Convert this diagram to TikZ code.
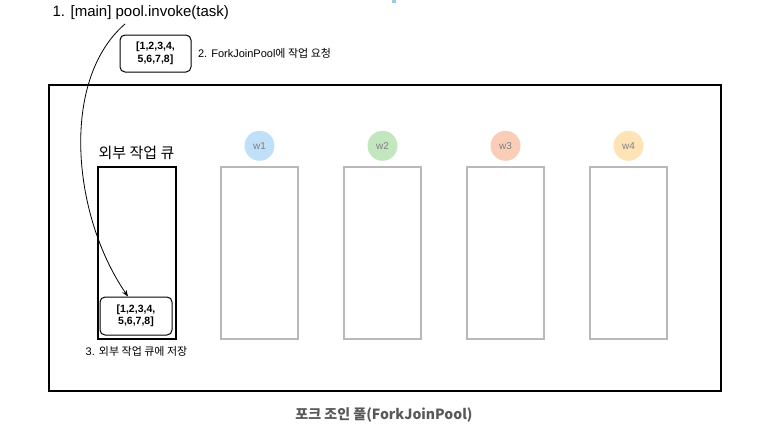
\documentclass[tikz,border=0pt]{standalone}
\usepackage{fontspec}
\setmainfont{Liberation Sans}
\newfontfamily\kr{Noto Sans CJK KR}
\usetikzlibrary{arrows.meta, positioning}

\definecolor{wblue}{HTML}{BFE0F8}
\definecolor{wgreen}{HTML}{C2E6BE}
\definecolor{wred}{HTML}{F9CDB8}
\definecolor{worange}{HTML}{FDE3B6}
\definecolor{tickblue}{HTML}{9EC8E4}

\begin{document}
\begin{tikzpicture}[x=1pt, y=-1pt, >=Stealth,
	task/.style={draw, rounded corners=5pt, line width=1pt, align=center,
		minimum width=71pt, minimum height=37pt,
		font=\bfseries\fontsize{10.5}{12.5}\selectfont},
	worker/.style={draw=gray!55, line width=2pt,
		minimum width=77pt, minimum height=172pt},
	wcircle/.style={circle, minimum size=30pt, inner sep=0pt,
		text=gray, font=\fontsize{10}{11}\selectfont}]
	\useasboundingbox (0,0) rectangle (773,434);
	\fill[tickblue] (392,0) rectangle (396,3);

	% pool and its queue
	\node[draw, line width=2pt, minimum width=672pt, minimum height=306pt,
		anchor=north west] (pool) at (48,84) {};
	\node[draw, line width=2pt, minimum width=78pt, minimum height=172pt]
		(queue) at (136.5,253) {};
	\node[above=3pt of queue, font=\kr\fontsize{15}{17}\selectfont] (qlabel)
		{외부 작업 큐};
	\node[task, minimum width=72pt, minimum height=38pt] (qtask) at (136,316)
		{[1,2,3,4,\\5,6,7,8]};
	\node[below=3pt of queue, font=\fontsize{11}{12}\selectfont] (store)
		{3. {\kr 외부 작업 큐에 저장}};

	\foreach \i/\c in {1/wblue, 2/wgreen, 3/wred, 4/worange} {
		\node[worker] (box\i) at ({259.5+123*(\i-1)},253) {};
		\node[wcircle, fill=\c, above=5pt of box\i] (w\i) {w\i};
	}

	% request from main
	\node[anchor=west, font=\fontsize{15}{17}\selectfont] (main) at (49,13)
		{1. [main] pool.invoke(task)};
	\node[task] (ptask) at (155.5,53.5) {[1,2,3,4,\\5,6,7,8]};
	\node[right=3pt of ptask, font=\fontsize{11}{12}\selectfont] (request)
		{2. ForkJoinPool{\kr 에 작업 요청}};
	\coordinate (from) at (125,24);
	\draw[->, line width=0.8pt] (from) .. controls (60,80) and (72,215)
		.. ([xshift=-8pt]qtask.north);

	\node[text=black!65, font=\kr\bfseries\fontsize{14}{16}\selectfont]
		(title) at (384,415) {포크 조인 풀(ForkJoinPool)};
\end{tikzpicture}
\end{document}
